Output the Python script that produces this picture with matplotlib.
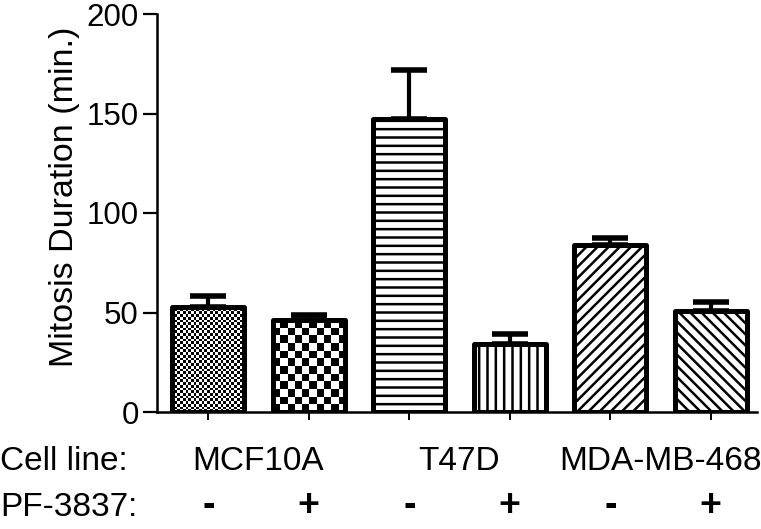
import numpy as np
import matplotlib
matplotlib.use("Agg")
import matplotlib.pyplot as plt
from matplotlib.transforms import blended_transform_factory

plt.rcParams['font.family'] = ['Liberation Sans', 'DejaVu Sans']
plt.rcParams['hatch.linewidth'] = 1.8

# ---- data ----
cell_lines = ["MCF10A", "T47D", "MDA-MB-468"]
treatment = ["-", "+", "-", "+", "-", "+"]
values = [53, 46, 147, 34, 84, 51]
errors = [5.5, 2.5, 25, 5, 3.5, 4.5]
yticks = [0, 50, 100, 150, 200]
hatches = [None, None, "--", "||", "///", "\\\\\\"]
checker_px = [2.7, 7.4, None, None, None, None]  # checker square size (style)

fig = plt.figure(figsize=(7.61, 5.29), dpi=100)
W, H = 761, 529
ax = fig.add_axes([157 / W, 1 - 412 / H, (757 - 157) / W, (412 - 14) / H])

x = np.arange(len(values))
bw = 0.72
bars = ax.bar(x, values, width=bw, facecolor="white", edgecolor="black",
              linewidth=3.6, zorder=3, joinstyle="round")
for b, h, c in zip(bars, hatches, checker_px):
    if h:
        b.set_hatch(h)
    if c:
        b.set_facecolor("none")

ax.errorbar(x, values, yerr=[np.zeros(len(errors)), errors], fmt="none",
            ecolor="black", elinewidth=3, capsize=13, capthick=4, zorder=2)

ax.set_xlim(-0.51, 5.46)
ax.set_ylim(0, 200)

# checkerboard fills clipped to bars
ppx = 99.6   # pixels per x unit
ppy = 1.99   # pixels per y unit
for b, c in zip(bars, checker_px):
    if not c:
        continue
    x0, w = b.get_x(), b.get_width()
    y0, hgt = b.get_y(), b.get_height()
    nx = int(round(w * ppx / c))
    ny = int(round(hgt * ppy / c))
    ii, jj = np.indices((ny, nx))
    board = ((ii + jj) % 2).astype(float)
    im = ax.imshow(board, cmap="gray", interpolation="nearest", aspect="auto",
                   extent=[x0, x0 + w, y0, y0 + hgt], origin="lower", zorder=2.5)
    im.set_clip_path(b)

ax.set_aspect("auto")
ax.set_xlim(-0.51, 5.46)
ax.set_ylim(0, 200)

for s in ["top", "right"]:
    ax.spines[s].set_visible(False)
ax.spines["left"].set_linewidth(1.8)
ax.spines["bottom"].set_linewidth(1.8)

ax.set_yticks(yticks)
ax.set_yticklabels([str(v) for v in yticks], fontsize=22.5)
ax.tick_params(axis="y", length=10, width=1.6, pad=3)
ax.set_xticks(x)
ax.set_xticklabels([])
ax.tick_params(axis="x", length=6, width=1.4)

fig.text(65 / W, 1 - 197 / H, "Mitosis Duration (min.)", rotation=90,
         ha="center", va="center", fontsize=24.5)

trans = blended_transform_factory(ax.transData, fig.transFigure)
fig.text(0 / W, 1 - 462 / H, "Cell line:", ha="left", va="center", fontsize=24)
fig.text(0 / W, 1 - 507 / H, "PF-3837:", ha="left", va="center", fontsize=24)
for i, name in enumerate(cell_lines):
    cx = (x[2 * i] + x[2 * i + 1]) / 2
    ax.text(cx, 1 - 462 / H, name, transform=trans, ha="center", va="center",
            fontsize=24)
for xi, t in zip(x, treatment):
    ax.text(xi, 1 - 506 / H, t, transform=trans, ha="center", va="center",
            fontsize=27, fontweight="bold")

fig.savefig("out.png", dpi=100)
